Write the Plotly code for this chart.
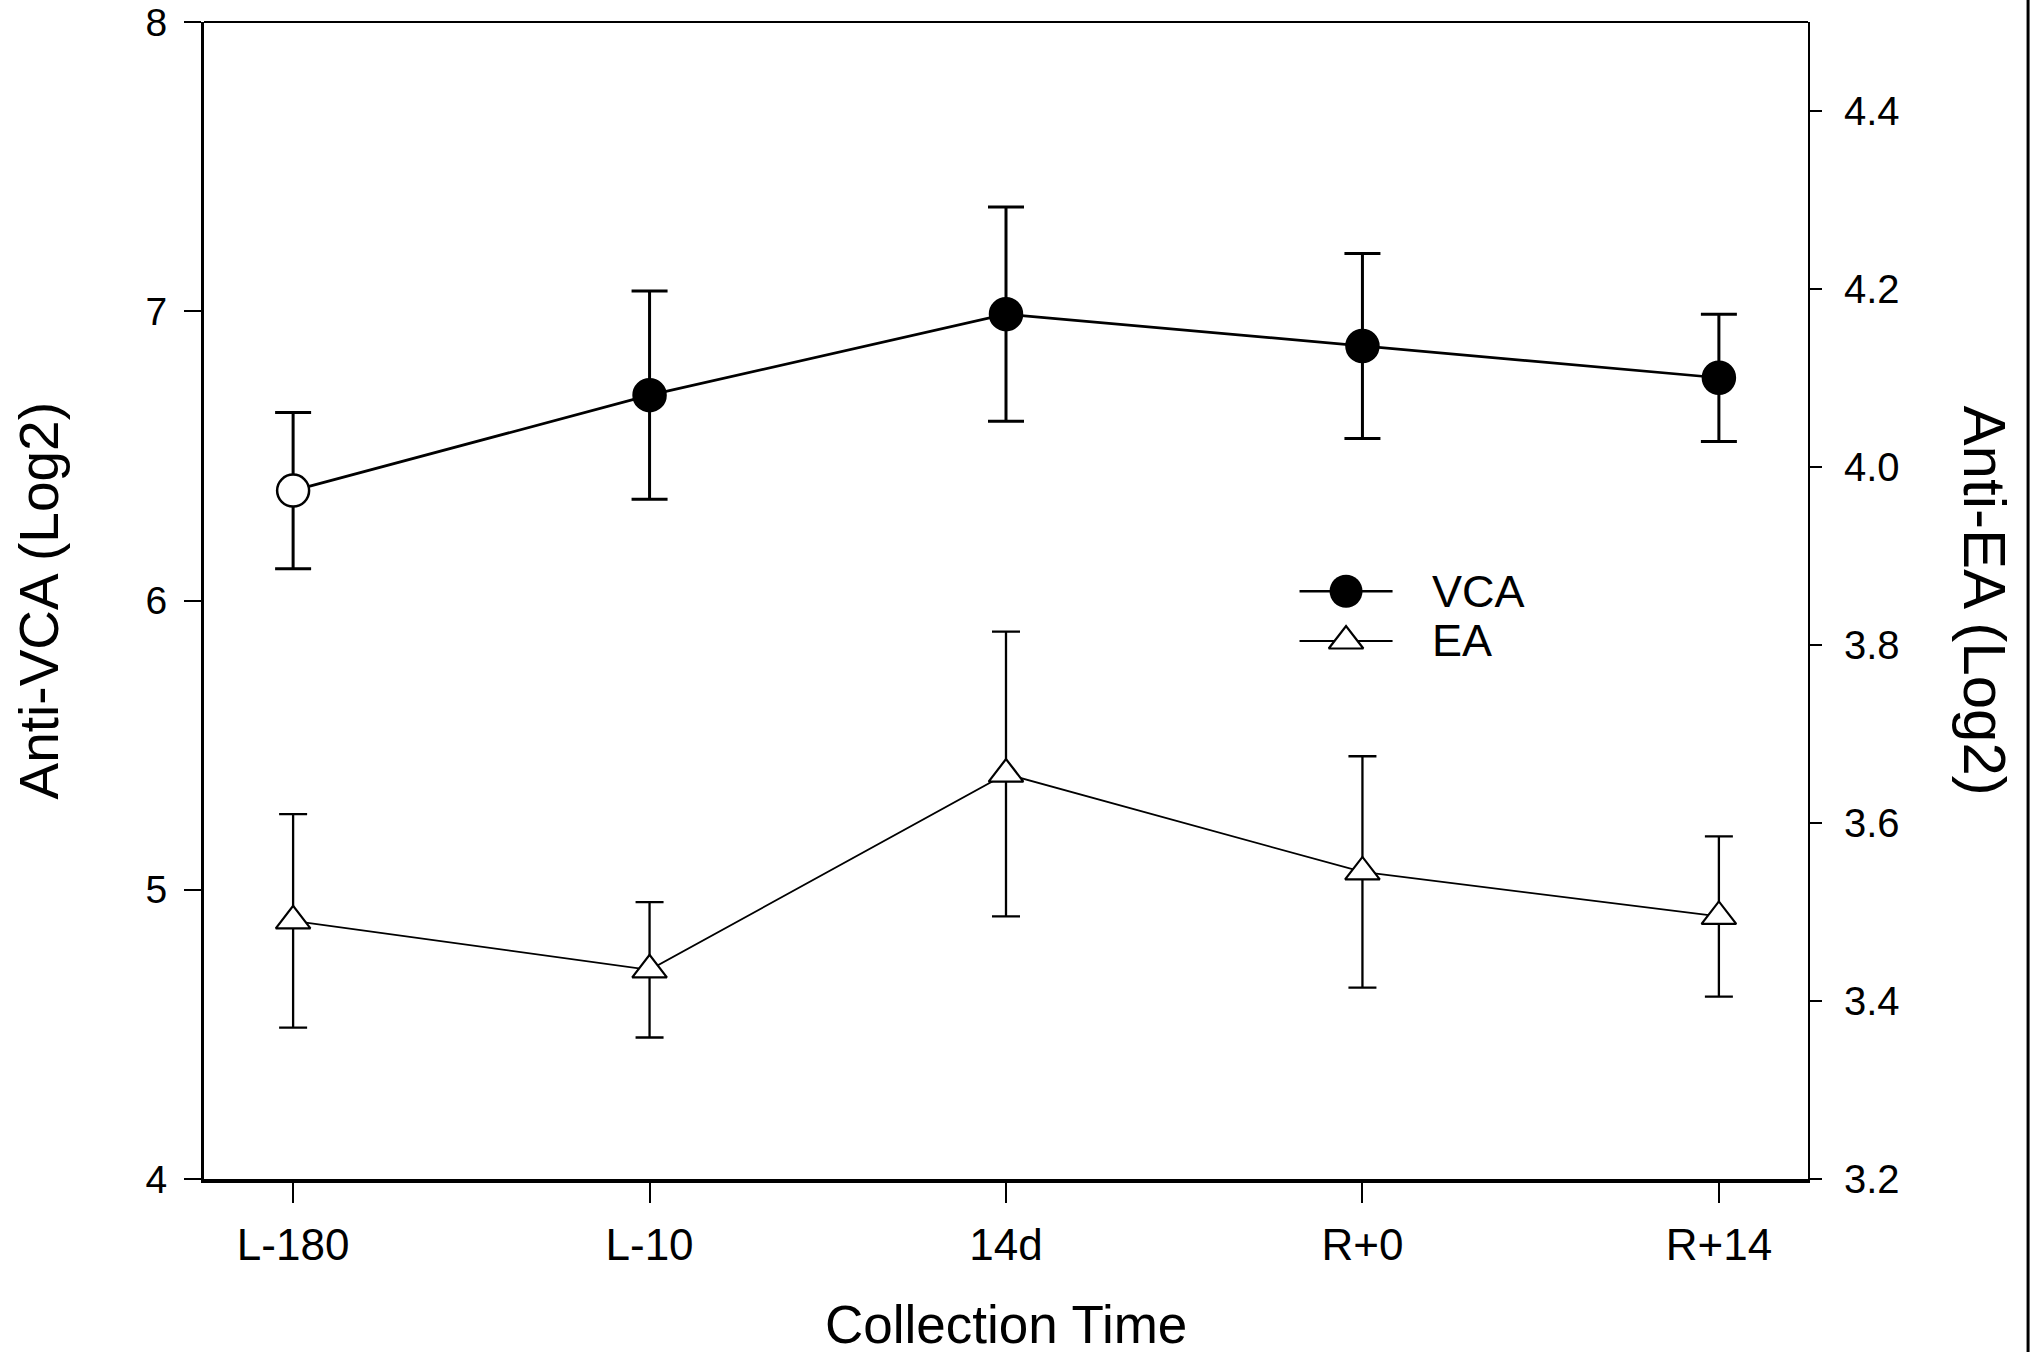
import plotly.graph_objects as go

# Werte
zeitpunkte = ["L-180", "L-10", "14d", "R+0", "R+14"]
vca_mittel = [6.38, 6.71, 6.99, 6.88, 6.77]
vca_fehler = [0.27, 0.36, 0.37, 0.32, 0.22]
ea_mittel = [3.49, 3.435, 3.655, 3.545, 3.495]
ea_fehler = [0.12, 0.076, 0.16, 0.13, 0.09]
vca_fuellung = ["white", "black", "black", "black", "black"]

links_ticks = [4, 5, 6, 7, 8]
rechts_ticks = [3.2, 3.4, 3.6, 3.8, 4.0, 4.2, 4.4]

schrift = "Liberation Sans, Arial, sans-serif"

vca_linie = dict(color="black", width=2.7)
ea_linie = dict(color="black", width=1.8)
ea_marker = dict(symbol="triangle-up", size=30, color="white",
                 line=dict(color="black", width=2.2))

fig = go.Figure()

# VCA (linke Achse)
fig.add_trace(go.Scatter(
    x=zeitpunkte, y=vca_mittel,
    mode="lines+markers", name="VCA",
    line=vca_linie,
    marker=dict(symbol="circle", size=32, color=vca_fuellung,
                line=dict(color="black", width=2.5)),
    error_y=dict(type="data", array=vca_fehler, visible=True,
                 color="black", thickness=3, width=18),
))

# EA (rechte Achse)
fig.add_trace(go.Scatter(
    x=zeitpunkte, y=ea_mittel,
    mode="lines+markers", name="EA", yaxis="y2",
    line=ea_linie, marker=ea_marker,
    error_y=dict(type="data", array=ea_fehler, visible=True,
                 color="black", thickness=2.3, width=14),
))

# Legende von Hand (Plotly begrenzt die Symbolgröße in der Legende)
def legenden_eintrag(y, linie, marker, text):
    mitte = 0.712
    fig.add_trace(go.Scatter(
        x=[mitte - 0.029, mitte + 0.029], y=[y, y], mode="lines",
        line=linie, xaxis="x2", yaxis="y3", hoverinfo="skip",
    ))
    fig.add_trace(go.Scatter(
        x=[mitte], y=[y], mode="markers", marker=marker,
        xaxis="x2", yaxis="y3", hoverinfo="skip",
    ))
    fig.add_annotation(text=text, xref="paper", yref="paper",
                       x=0.7643, y=y, xanchor="left", yanchor="middle",
                       showarrow=False, font=dict(size=45))

legenden_eintrag(0.508, vca_linie,
                 dict(symbol="circle", size=33, color="black"), "VCA")
legenden_eintrag(0.465, ea_linie, ea_marker, "EA")

fig.update_layout(
    width=2030, height=1352,
    margin=dict(l=204, r=222, t=22, b=173),
    paper_bgcolor="white", plot_bgcolor="white",
    showlegend=False,
    font=dict(family=schrift, color="black", size=40),
    xaxis=dict(
        type="category", range=[-0.25, 4.25], automargin=False,
        showline=True, linecolor="black", linewidth=3.5,
        ticks="outside", ticklen=20, tickwidth=2, tickcolor="black",
        ticklabelstandoff=4,
        showgrid=False, zeroline=False,
        tickfont=dict(size=44),
    ),
    xaxis2=dict(overlaying="x", range=[0, 1], visible=False),
    yaxis=dict(
        range=[4, 8], tickvals=links_ticks, automargin=False,
        showline=True, linecolor="black", linewidth=3,
        ticks="outside", ticklen=17, tickwidth=2.3, tickcolor="black",
        ticklabelstandoff=9, ticklabeloverflow="allow",
        showgrid=False, zeroline=False,
        tickfont=dict(size=39),
    ),
    yaxis2=dict(
        range=[3.2, 4.5], tickvals=rechts_ticks, tickformat=".1f",
        overlaying="y", side="right", automargin=False,
        showline=True, linecolor="black", linewidth=2,
        ticks="outside", ticklen=12, tickwidth=2, tickcolor="black",
        ticklabelstandoff=14, ticklabeloverflow="allow",
        showgrid=False, zeroline=False,
        tickfont=dict(size=40),
    ),
    yaxis3=dict(overlaying="y", range=[0, 1], visible=False),
    shapes=[
        # obere Rahmenlinie
        dict(type="line", xref="paper", yref="paper", x0=0, x1=1, y0=1, y1=1,
             line=dict(color="black", width=2)),
        # Linie am rechten Bildrand
        dict(type="line", xref="paper", yref="paper", x0=1.1372, x1=1.1372,
             y0=-0.16, y1=1.03, line=dict(color="black", width=3)),
    ],
)

fig.add_annotation(text="Collection Time", xref="paper", yref="paper",
                   x=0.5, y=-0.126, xanchor="center", yanchor="middle",
                   showarrow=False, font=dict(size=53))
fig.add_annotation(text="Anti-VCA (Log2)", xref="paper", yref="paper",
                   x=-0.1029, y=0.5, xanchor="center", yanchor="middle",
                   textangle=-90, showarrow=False, font=dict(size=55))
fig.add_annotation(text="Anti-EA (Log2)", xref="paper", yref="paper",
                   x=1.1103, y=0.5, xanchor="center", yanchor="middle",
                   textangle=90, showarrow=False, font=dict(size=60))

# Seitenrand entfernen, damit die Grafik genau das Fenster füllt
fig.write_html("out.html",
               config={"displayModeBar": False},
               post_script="document.body.style.margin='0';"
                           "document.body.style.overflow='hidden';")
